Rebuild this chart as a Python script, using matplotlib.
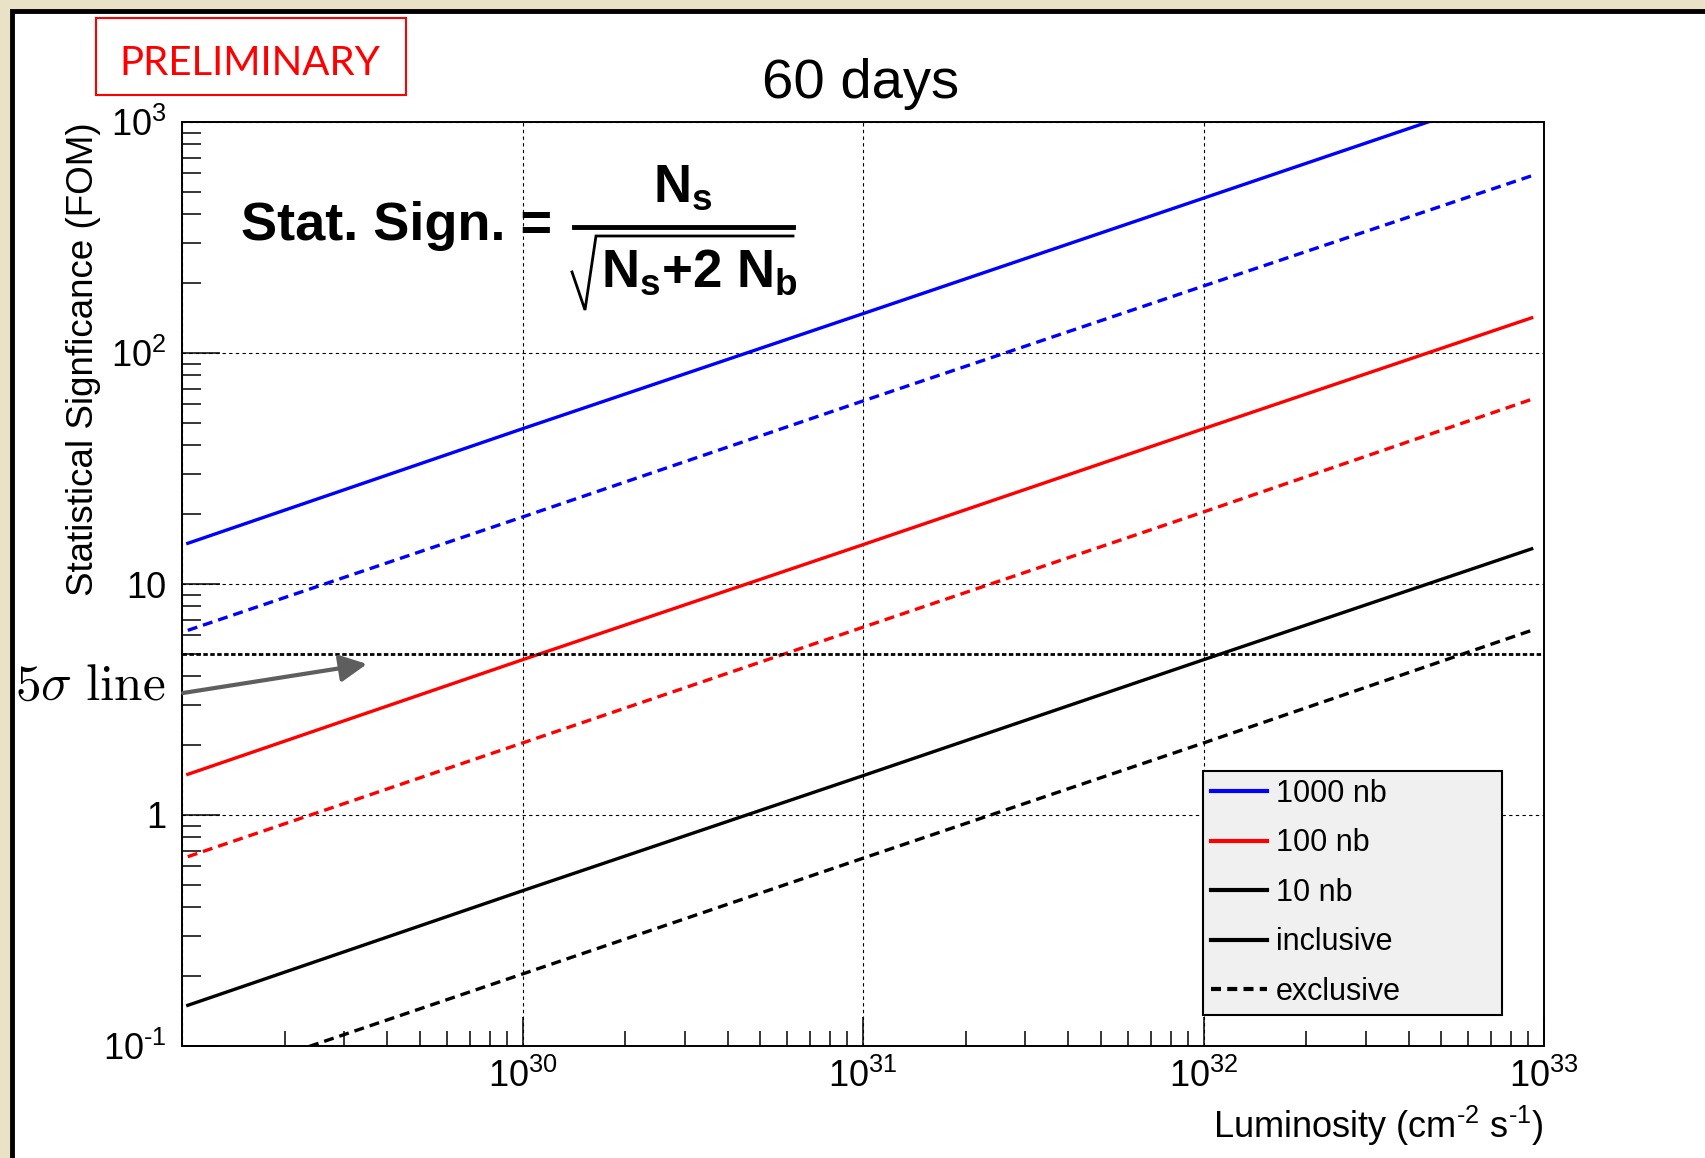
import numpy as np
import matplotlib
matplotlib.use("Agg")
import matplotlib.pyplot as plt
from matplotlib.lines import Line2D
from matplotlib.patches import Rectangle
from matplotlib.ticker import LogLocator, FuncFormatter, NullFormatter

# luminosity points (cm^-2 s^-1) where the curves were read
lumi = [1.04e29, 1e30, 1e31, 1e32, 9.2e32]

# statistical significance
sig_1000_incl = [15.0, 47.0, 148.0, 468.0, 1420.0]
sig_1000_excl = [6.3, 19.5, 62.0, 195.0, 585.0]
sig_100_incl = [1.5, 4.7, 14.8, 47.0, 142.0]
sig_100_excl = [0.66, 2.05, 6.5, 20.5, 63.0]
sig_10_incl = [0.15, 0.47, 1.48, 4.7, 14.2]
sig_10_excl = [0.066, 0.205, 0.65, 2.05, 6.3]

five_sigma = 5.0
legend_labels = ["1000 nb", "100 nb", "10 nb", "inclusive", "exclusive"]

W, H = 1706, 1158
sans = "Liberation Sans"
HY = "\u2010"  # short hyphen used in the exponents

plt.rcParams.update({
    "font.family": sans,
    "mathtext.fontset": "custom",
    "mathtext.rm": sans,
    "mathtext.it": sans + ":italic",
    "mathtext.bf": sans + ":bold",
})

fig = plt.figure(figsize=(W / 100, H / 100), dpi=100)
fig.patch.set_facecolor("#e9e2c6")

# white slide area with black border (top / left visible)
fig.add_artist(Rectangle((12 / W, -0.1), 1.2, 1.1 - 11 / H, transform=fig.transFigure,
                         facecolor="white", edgecolor="black", lw=3.5, zorder=-10))

ax = fig.add_axes([182 / W, 1 - 1046 / H, (1544 - 182) / W, (1046 - 122) / H])
ax.set_xscale("log")
ax.set_yscale("log")
ax.set_xlim(1e29, 1e33)
ax.set_ylim(0.1, 1000)

lw = 2.4
dash = (3.0, 1.8)
ax.plot(lumi, sig_1000_incl, color="blue", lw=lw)
ax.plot(lumi, sig_1000_excl, color="blue", lw=lw, dashes=dash)
ax.plot(lumi, sig_100_incl, color="red", lw=lw)
ax.plot(lumi, sig_100_excl, color="red", lw=lw, dashes=dash)
ax.plot(lumi, sig_10_incl, color="black", lw=lw)
ax.plot(lumi, sig_10_excl, color="black", lw=lw, dashes=dash)

ax.grid(True, which="major", color="black", lw=0.8, linestyle=(0, (3, 3)))
ax.axhline(five_sigma, color="black", lw=2.0, linestyle=(0, (1.6, 0.9)))

for s in ax.spines.values():
    s.set_linewidth(1.4)

ax.xaxis.set_major_locator(LogLocator(base=10, numticks=10))
ax.xaxis.set_minor_locator(LogLocator(base=10, subs=np.arange(2, 10), numticks=20))
ax.yaxis.set_major_locator(LogLocator(base=10, numticks=10))
ax.yaxis.set_minor_locator(LogLocator(base=10, subs=np.arange(2, 10), numticks=20))
ax.xaxis.set_minor_formatter(NullFormatter())
ax.yaxis.set_minor_formatter(NullFormatter())


def pow_label(e):
    return r"$\mathregular{10^{%s}}$" % str(e).replace("-", HY)


def yfmt(v, pos):
    e = int(round(np.log10(v)))
    if e == 0:
        return "1"
    if e == 1:
        return "10"
    return pow_label(e)


def xfmt(v, pos):
    e = int(round(np.log10(v)))
    if e == 29:
        return ""
    return pow_label(e)


ax.yaxis.set_major_formatter(FuncFormatter(yfmt))
ax.xaxis.set_major_formatter(FuncFormatter(xfmt))

ax.tick_params(which="both", direction="in", width=1.1, top=False, right=False, colors="black")
ax.tick_params(axis="y", which="major", length=27, pad=11, labelsize=26)
ax.tick_params(axis="y", which="minor", length=14)
ax.tick_params(axis="x", which="major", length=21, pad=9, labelsize=26)
ax.tick_params(axis="x", which="minor", length=10.5)

# legend
handles = [
    Line2D([], [], color="blue", lw=3),
    Line2D([], [], color="red", lw=3),
    Line2D([], [], color="black", lw=3),
    Line2D([], [], color="black", lw=3),
    Line2D([], [], color="black", lw=3, dashes=(2.4, 1.5)),
]
leg = fig.legend(handles, legend_labels, loc="upper left",
                 bbox_to_anchor=(1203 / W, 1 - 1017 / H, (1502 - 1203) / W, (1017 - 771) / H),
                 mode="expand", borderaxespad=0,
                 prop={"family": sans, "size": 22},
                 handlelength=1.83, handletextpad=0.3, labelspacing=0.64, borderpad=0.25,
                 fancybox=False, framealpha=1, facecolor="#f0f0f0", edgecolor="black")
leg.get_frame().set_linewidth(1.5)

# title and axis titles
fig.text(861 / W, 1 - 98 / H, "60 days", ha="center", va="baseline", fontsize=40.5)
fig.text(84 / W, 1 - 122 / H, "Statistical Signficance (FOM)", rotation=90,
         ha="center", va="top", fontsize=26.5)
fig.text(1544 / W, 1 - 1138 / H, r"Luminosity (cm$^{%s2}$ s$^{%s1}$)" % (HY, HY),
         ha="right", va="baseline", fontsize=26)

# PRELIMINARY stamp
fig.add_artist(Rectangle((96 / W, 1 - 95 / H), 310 / W, 77 / H, transform=fig.transFigure,
                         facecolor="white", edgecolor="red", lw=1.5))
fig.text(250 / W, 1 - 75 / H, "PRELIMINARY", color="red", ha="center", va="baseline",
         fontsize=29, family="Lato")

# formula
fig.text(241 / W, 1 - 240 / H, "Stat. Sign. =", fontsize=39, fontweight="bold",
         ha="left", va="baseline")
fig.text(683 / W, 1 - 202 / H, r"$\mathbf{N_s}$", fontsize=38, ha="center", va="baseline")
fig.add_artist(Line2D([574 / W, 793 / W], [1 - 227 / H] * 2, transform=fig.transFigure,
                      color="black", lw=3.5))
# radical sign
rad_x = [572, 585, 596, 793]
rad_y = [272, 310, 236, 236]
fig.add_artist(Line2D([x / W for x in rad_x], [1 - y / H for y in rad_y],
                      transform=fig.transFigure, color="black", lw=2.0,
                      solid_joinstyle="miter"))
fig.text(601 / W, 1 - 287 / H, r"$\mathbf{N_s{+}2\ N_b}$", fontsize=38,
         ha="left", va="baseline")

# 5 sigma annotation
fig.text(15 / W, 1 - 700 / H, r"$5\sigma\ \mathrm{line}$", math_fontfamily="cm",
         fontsize=37, ha="left", va="baseline")
ax.annotate("", xy=(367, H - 664), xycoords="figure pixels",
            xytext=(183, H - 693), textcoords="figure pixels",
            arrowprops=dict(arrowstyle="-|>,head_length=0.4,head_width=0.2",
                            color="#5e5e5e", lw=3, mutation_scale=41,
                            shrinkA=0, shrinkB=0))

fig.savefig("out.png", dpi=100)
